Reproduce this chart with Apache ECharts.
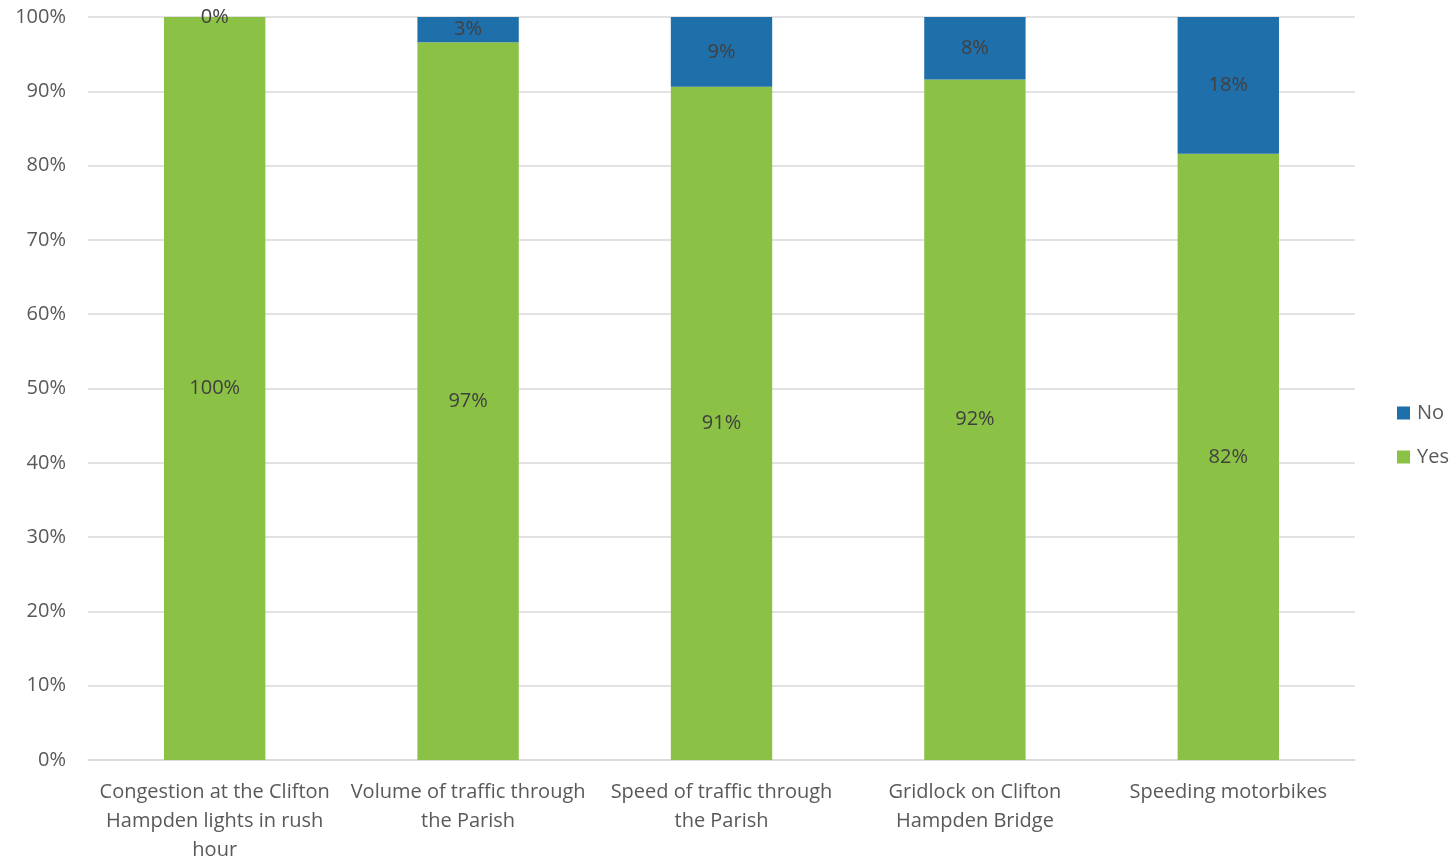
<!DOCTYPE html>
<html>
<head>
<meta charset="utf-8">
<script src="https://cdn.jsdelivr.net/npm/echarts@6/dist/echarts.min.js"></script>
<style>html,body{margin:0;padding:0;background:#fff;}#c{width:1456px;height:861px;}</style>
</head>
<body>
<div id="c"></div>
<script>
const categories = [
  "Congestion at the Clifton\nHampden lights in rush\nhour",
  "Volume of traffic through\nthe Parish",
  "Speed of traffic through\nthe Parish",
  "Gridlock on Clifton\nHampden Bridge",
  "Speeding motorbikes"
];
const yesValues = [100, 96.6, 90.6, 91.6, 81.6];
const noValues = [0, 3.4, 9.4, 8.4, 18.4];
const FONT = "'Open Sans', 'Noto Sans', sans-serif";

const chart = echarts.init(document.getElementById('c'), null, {renderer: 'canvas'});
const labelCfg = {
  show: true,
  position: 'inside',
  color: '#404040',
  fontFamily: FONT,
  fontSize: 20,
  formatter: p => Math.round(p.value) + '%'
};
chart.setOption({
  animation: false,
  grid: {left: 88, right: 101, top: 17, bottom: 101, containLabel: false, outerBoundsMode: 'none'},
  legend: {
    orient: 'vertical',
    left: 1392,
    top: 398,
    itemWidth: 13,
    itemHeight: 13,
    itemGap: 24,
    icon: 'rect',
    data: ['No', 'Yes'],
    textStyle: {color: '#595959', fontFamily: FONT, fontSize: 20, padding: [0, 0, 0, 2]}
  },
  xAxis: {
    type: 'category',
    data: categories,
    axisTick: {show: false},
    axisLine: {lineStyle: {color: '#d9d9d9', width: 1.5}},
    axisLabel: {color: '#595959', fontFamily: FONT, fontSize: 20, lineHeight: 29, margin: 18, interval: 0}
  },
  yAxis: {
    type: 'value',
    min: 0, max: 100, interval: 10,
    axisLine: {show: false},
    axisTick: {show: false},
    splitLine: {lineStyle: {color: '#d9d9d9', width: 1.5}},
    axisLabel: {color: '#595959', fontFamily: FONT, fontSize: 20, margin: 22, formatter: '{value}%'}
  },
  series: [
    {name: 'Yes', type: 'bar', stack: 's', data: yesValues, barWidth: '40%',
     itemStyle: {color: '#8bc145'}, label: labelCfg},
    {name: 'No', type: 'bar', stack: 's', data: noValues, barWidth: '40%',
     itemStyle: {color: '#1f6fab'}, label: labelCfg}
  ]
});
</script>
</body>
</html>
